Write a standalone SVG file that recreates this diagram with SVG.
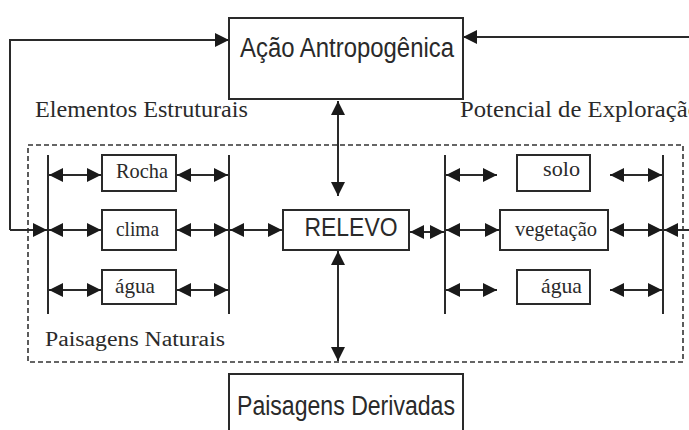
<svg xmlns="http://www.w3.org/2000/svg" width="689" height="430" viewBox="0 0 689 430">
<defs>
<marker id="ah" markerUnits="userSpaceOnUse" markerWidth="16" markerHeight="16" viewBox="0 0 16 16" refX="14" refY="8" orient="auto-start-reverse">
<path d="M0,1 L14,8 L0,15 Z" fill="#1a1a1a"/>
</marker>
</defs>
<style>
.box{fill:#fff;stroke:#2a2a2a;stroke-width:2}
.ln{fill:none;stroke:#2a2a2a;stroke-width:2}
.da{fill:none;stroke:#2a2a2a;stroke-width:2;marker-start:url(#ah);marker-end:url(#ah)}
.sa{fill:none;stroke:#2a2a2a;stroke-width:2;marker-end:url(#ah)}
.sans{font-family:"Liberation Sans",Arial,sans-serif;fill:#2a2a2a;text-anchor:middle}
.serif{font-family:"Liberation Serif","Times New Roman",serif;fill:#2a2a2a}
.dash{fill:none;stroke:#333;stroke-width:1.6;stroke-dasharray:5,3}
</style>
<rect width="689" height="430" fill="#fff"/>
<rect class="dash" x="28" y="145" width="655" height="217"/>
<text class="serif" x="35" y="117" font-size="23" textLength="213" lengthAdjust="spacingAndGlyphs">Elementos Estruturais</text>
<text class="serif" x="460" y="117" font-size="23" textLength="240" lengthAdjust="spacingAndGlyphs">Potencial de Exploração</text>
<text class="serif" x="45" y="346" font-size="20" textLength="180" lengthAdjust="spacingAndGlyphs">Paisagens Naturais</text>
<g id="connectors">
<polyline class="sa" points="10,230 10,40 229,40"/>
<polyline class="sa" points="689,37 463,37"/>
<line class="sa" x1="689" y1="230" x2="664" y2="230"/>
<line class="sa" x1="10" y1="230" x2="47" y2="230"/>
<line class="da" x1="338" y1="101" x2="338" y2="196"/>
<line class="da" x1="338" y1="251" x2="338" y2="361"/>
<line class="ln" x1="48" y1="155" x2="48" y2="314"/>
<line class="ln" x1="229" y1="155" x2="229" y2="314"/>
<line class="ln" x1="445" y1="155" x2="445" y2="314"/>
<line class="ln" x1="663" y1="155" x2="663" y2="314"/>
<line class="da" x1="49" y1="175" x2="101" y2="175"/>
<line class="da" x1="177" y1="175" x2="228" y2="175"/>
<line class="da" x1="49" y1="230" x2="101" y2="230"/>
<line class="da" x1="177" y1="230" x2="228" y2="230"/>
<line class="da" x1="49" y1="290" x2="101" y2="290"/>
<line class="da" x1="177" y1="290" x2="228" y2="290"/>
<line class="da" x1="230" y1="230" x2="282" y2="230"/>
<line class="da" x1="410" y1="232" x2="444" y2="232"/>
<line class="da" x1="446" y1="175" x2="497" y2="175"/>
<line class="da" x1="610" y1="175" x2="662" y2="175"/>
<line class="da" x1="446" y1="230" x2="499" y2="230"/>
<line class="da" x1="610" y1="230" x2="662" y2="230"/>
<line class="da" x1="446" y1="290" x2="497" y2="290"/>
<line class="da" x1="610" y1="290" x2="662" y2="290"/>
</g>
<g id="acao">
<rect class="box" x="229" y="18" width="234" height="81"/>
<text class="sans" x="347" y="57" font-size="27" textLength="214" lengthAdjust="spacingAndGlyphs">Ação Antropogênica</text>
</g>
<g id="relevo">
<rect class="box" x="283" y="210" width="126" height="40"/>
<text class="sans" x="351" y="236" font-size="25" textLength="93" lengthAdjust="spacingAndGlyphs">RELEVO</text>
</g>
<g id="rocha">
<rect class="box" x="102" y="155" width="74" height="36"/>
<text class="serif" x="116" y="178" font-size="22" textLength="52" lengthAdjust="spacingAndGlyphs">Rocha</text>
</g>
<g id="clima">
<rect class="box" x="102" y="210" width="74" height="40"/>
<text class="serif" x="116" y="236" font-size="22" textLength="43" lengthAdjust="spacingAndGlyphs">clima</text>
</g>
<g id="agua1">
<rect class="box" x="102" y="270" width="74" height="34"/>
<text class="serif" x="115" y="293" font-size="22" textLength="40" lengthAdjust="spacingAndGlyphs">água</text>
</g>
<g id="solo">
<rect class="box" x="517" y="155" width="73" height="36"/>
<text class="serif" x="543" y="176" font-size="22" textLength="37" lengthAdjust="spacingAndGlyphs">solo</text>
</g>
<g id="vegetacao">
<rect class="box" x="500" y="210" width="108" height="40"/>
<text class="serif" x="515" y="236" font-size="22" textLength="82" lengthAdjust="spacingAndGlyphs">vegetação</text>
</g>
<g id="agua2">
<rect class="box" x="517" y="270" width="73" height="34"/>
<text class="serif" x="541" y="293" font-size="22" textLength="41" lengthAdjust="spacingAndGlyphs">água</text>
</g>
<g id="derivadas">
<rect class="box" x="229" y="374" width="234" height="70"/>
<text class="sans" x="346" y="415" font-size="27" textLength="218" lengthAdjust="spacingAndGlyphs">Paisagens Derivadas</text>
</g>
</svg>
